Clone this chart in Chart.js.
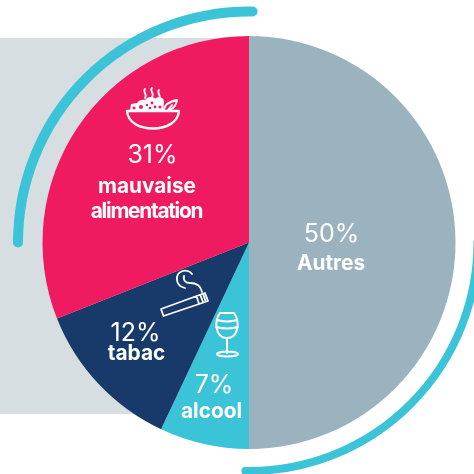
<!DOCTYPE html>
<html lang="fr">
<head>
<meta charset="utf-8">
<title>Causes</title>
<style>
html,body{margin:0;padding:0;background:#fff}
canvas{display:block}
</style>
<script src="https://cdn.jsdelivr.net/npm/chart.js@4/dist/chart.umd.min.js"></script>
</head>
<body>
<canvas id="pie" width="474" height="474"></canvas>
<script>
// Share of each cause, clockwise from twelve o'clock
const categories = ['Autres', 'alcool', 'tabac', 'mauvaise alimentation'];
const shares = [50, 7, 12, 31];
const sliceColors = ['#9BB3BF', '#3BC3D8', '#183A6B', '#EF1A60'];

const WHITE = '#FFFFFF';
const PINK = sliceColors[3];
const FONT = 'Inter, "Open Sans", sans-serif';

// Captions: percentage line, then one or two bold name lines
const captions = [
  {lines: ['50%', 'Autres'], xs: [331.5, 331], ys: [234.5, 264]},
  {lines: ['7%', 'alcool'], xs: [214, 211.5], ys: [385, 412]},
  {lines: ['12%', 'tabac'], xs: [135.5, 136.5], ys: [333, 354]},
  {lines: ['31%', 'mauvaise', 'alimentation'], xs: [152.5, 147, 146.5], ys: [155, 187, 212], squeeze: [0, 0, -1.25]}
];

function stroked(ctx, width, draw) {
  ctx.save();
  ctx.strokeStyle = WHITE;
  ctx.lineWidth = width;
  ctx.lineCap = 'round';
  ctx.lineJoin = 'round';
  ctx.beginPath();
  draw();
  ctx.stroke();
  ctx.restore();
}

function drawBowl(ctx) {
  // heap of salad behind the rim
  ctx.save();
  ctx.fillStyle = WHITE;
  ctx.beginPath();
  ctx.moveTo(130, 111);
  ctx.lineTo(131, 104);
  ctx.lineTo(137, 103);
  ctx.quadraticCurveTo(140, 99, 145, 100);
  ctx.arc(151, 104, 7, -2.2, -0.6);
  ctx.arc(159, 102, 5, -2.6, 0.2);
  ctx.lineTo(163, 111);
  ctx.closePath();
  ctx.fill();
  ctx.fillStyle = PINK;
  [[134, 108, 1.5], [141, 107, 2], [147, 105, 1.2], [152, 103, 1.4], [155, 107, 1.4], [150, 108, 1.3], [160, 107, 1.5]]
    .forEach(([x, y, r]) => {
      ctx.beginPath();
      ctx.arc(x, y, r, 0, Math.PI * 2);
      ctx.fill();
    });
  ctx.restore();
  stroked(ctx, 2.4, () => {
    // rim and basin
    ctx.moveTo(127, 111);
    ctx.lineTo(179, 111);
    ctx.moveTo(127, 111);
    ctx.bezierCurveTo(128, 123, 140, 128.5, 153, 128.5);
    ctx.bezierCurveTo(167, 128.5, 178, 122, 179, 111);
  });
  stroked(ctx, 1.8, () => {
    // steam
    [[145, 89], [152, 88], [159, 90]].forEach(([x, y]) => {
      ctx.moveTo(x, y);
      ctx.bezierCurveTo(x - 3, y + 3, x + 3, y + 5, x, y + 9);
    });
    // leaf
    ctx.moveTo(164, 110);
    ctx.quadraticCurveTo(164, 103, 177, 100);
    ctx.quadraticCurveTo(176, 107, 170, 110);
    ctx.moveTo(168, 110);
    ctx.lineTo(172, 105);
  });
}

function drawCigarette(ctx) {
  stroked(ctx, 1.8, () => {
    ctx.moveTo(161, 309);
    ctx.lineTo(205, 293);
    ctx.lineTo(208, 301);
    ctx.lineTo(163.5, 316);
    ctx.closePath();
    ctx.moveTo(196.5, 296);
    ctx.lineTo(199, 304);
    // filter tip ticks
    ctx.moveTo(200.5, 295.5);
    ctx.lineTo(203, 302);
    ctx.moveTo(203.5, 295);
    ctx.lineTo(205.5, 301);
    // smoke
    ctx.moveTo(192, 274);
    ctx.bezierCurveTo(188, 268, 176, 270, 177, 280);
    ctx.bezierCurveTo(177.5, 285, 181, 287, 185, 288);
    ctx.moveTo(184, 276);
    ctx.bezierCurveTo(183, 281, 186, 283, 190, 283);
    ctx.bezierCurveTo(197, 283, 201, 287, 202, 292);
  });
}

function drawGlass(ctx) {
  stroked(ctx, 2, () => {
    ctx.moveTo(220, 313);
    ctx.lineTo(234, 313);
    ctx.bezierCurveTo(240, 321, 239, 338, 227, 338);
    ctx.bezierCurveTo(215, 338, 214, 321, 220, 313);
    ctx.moveTo(217, 320);
    ctx.quadraticCurveTo(227, 323, 237, 320);
    ctx.moveTo(216, 327);
    ctx.quadraticCurveTo(227, 330, 238, 327);
    ctx.moveTo(227, 338);
    ctx.lineTo(227, 353);
    ctx.moveTo(238, 354);
    ctx.ellipse(227.5, 354, 10.5, 2.6, 0, 0, Math.PI * 2);
  });
}

// Pale panel and the two open cyan arcs around the pie
const backdrop = {
  id: 'backdrop',
  beforeDatasetsDraw(chart) {
    const {ctx} = chart;
    const arc = chart.getDatasetMeta(0).data[0];
    const cx = arc.x, cy = arc.y;
    ctx.save();
    ctx.fillStyle = '#D6DEE2';
    ctx.fillRect(0, 38, cx, 376);
    ctx.strokeStyle = '#3BC3D8';
    ctx.lineCap = 'round';
    ctx.lineWidth = 10;
    ctx.beginPath();
    ctx.arc(cx, cy, 231, Math.PI, Math.PI * 1.505);
    ctx.stroke();
    ctx.lineWidth = 8;
    ctx.beginPath();
    ctx.arc(cx, cy, 228.5, 0, Math.PI * 0.505);
    ctx.stroke();
    ctx.restore();
  }
};

// Slice captions and pictograms on top of the pie
const annotations = {
  id: 'annotations',
  afterDatasetsDraw(chart) {
    const {ctx} = chart;
    ctx.save();
    ctx.fillStyle = WHITE;
    ctx.textAlign = 'center';
    ctx.textBaseline = 'middle';
    captions.forEach(({lines, xs, ys, squeeze}) => {
      lines.forEach((line, i) => {
        ctx.font = i === 0 ? `400 25px ${FONT}` : `700 20.8px ${FONT}`;
        ctx.letterSpacing = `${squeeze ? squeeze[i] : 0}px`;
        ctx.fillText(line, xs[i], ys[i]);
      });
    });
    ctx.restore();
    drawBowl(ctx);
    drawCigarette(ctx);
    drawGlass(ctx);
  }
};

new Chart(document.getElementById('pie'), {
  type: 'pie',
  data: {
    labels: categories,
    datasets: [{
      data: shares,
      backgroundColor: sliceColors,
      borderWidth: 0,
      hoverOffset: 0
    }]
  },
  options: {
    responsive: false,
    animation: false,
    layout: {padding: {left: 42, right: 18, top: 36, bottom: 25}},
    plugins: {legend: {display: false}, tooltip: {enabled: false}}
  },
  plugins: [backdrop, annotations]
});
</script>
</body>
</html>
